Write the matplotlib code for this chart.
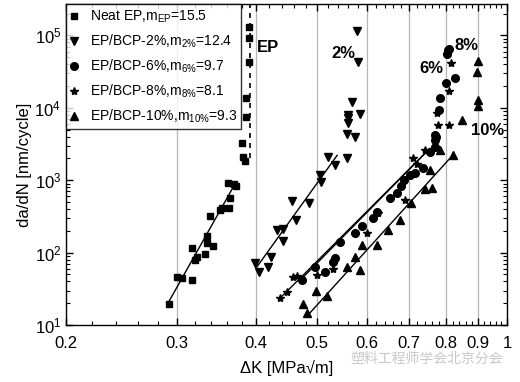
import matplotlib
matplotlib.use("Agg")
import matplotlib.pyplot as plt
from matplotlib.ticker import FixedLocator, FixedFormatter, LogLocator, NullFormatter

plt.rcParams["font.family"] = ["Liberation Sans", "Noto Sans CJK SC", "DejaVu Sans"]
plt.rcParams["mathtext.default"] = "regular"

# Neat EP (squares)
ep_x = [0.291, 0.300, 0.305, 0.317, 0.317, 0.320, 0.323, 0.332, 0.335, 0.338, 0.335,
        0.342, 0.351, 0.354, 0.361, 0.362, 0.364, 0.369, 0.372, 0.380, 0.382, 0.384,
        0.386, 0.386, 0.390, 0.390, 0.390]
ep_y = [19.5, 46, 44, 115, 42, 79, 87, 95, 169, 318, 135,
        123, 385, 410, 910, 420, 565, 900, 830, 3240, 2080, 1830,
        7400, 13500, 43000, 93000, 130000]

# EP/BCP-2% (down triangles)
bcp2_x = [0.399, 0.404, 0.418, 0.423, 0.432, 0.442, 0.442, 0.457, 0.463, 0.486, 0.505,
          0.507, 0.520, 0.534, 0.557, 0.558, 0.559, 0.560, 0.559, 0.568, 0.585, 0.575,
          0.580, 0.578]
bcp2_y = [72, 54, 63, 87, 204, 210, 144, 515, 280, 480, 1170,
          935, 2080, 1610, 2000, 4400, 7900, 7200, 6100, 11900, 8300, 3900,
          43000, 117000]

# EP/BCP-6% (circles)
bcp6_x = [0.473, 0.496, 0.515, 0.530, 0.534, 0.544, 0.574, 0.589, 0.613, 0.622, 0.652,
          0.669, 0.678, 0.686, 0.702, 0.716, 0.736, 0.755, 0.768, 0.770, 0.772, 0.769,
          0.780, 0.783, 0.800, 0.827, 0.803, 0.805, 0.808]
bcp6_y = [42, 63, 54, 74, 84, 140, 186, 232, 300, 360, 565,
          660, 830, 1000, 1170, 1250, 1500, 2440, 2850, 3560, 3900, 4170,
          9200, 13500, 22000, 26000, 56000, 62000, 66000]

# EP/BCP-8% (stars)
bcp8_x = [0.437, 0.448, 0.458, 0.465, 0.500, 0.530, 0.600, 0.624, 0.688, 0.709, 0.720,
          0.740, 0.778, 0.810, 0.775, 0.810, 0.815]
bcp8_y = [23.6, 28.5, 46, 48, 49, 60, 186, 350, 530, 2000, 1700,
          2600, 5800, 5800, 8600, 17000, 42000]

# EP/BCP-10% (up triangles)
bcp10_x = [0.482, 0.475, 0.498, 0.518, 0.557, 0.574, 0.585, 0.589, 0.622, 0.648, 0.676,
           0.705, 0.740, 0.760, 0.755, 0.783, 0.820, 0.850, 0.900, 0.900, 0.897, 0.900]
bcp10_y = [14.6, 19.5, 30, 25, 63, 87, 57, 127, 127, 205, 280,
           480, 750, 780, 1370, 2600, 2200, 6700, 10700, 12700, 31000, 45000]

# fitted Paris-law lines (end points)
fit_ep = ([0.291, 0.368], [21, 800])
fit_2 = ([0.400, 0.538], [61, 2210])
fit_6 = ([0.473, 0.750], [44, 2600])
fit_8 = ([0.437, 0.755], [23.6, 2760])
fit_10 = ([0.482, 0.820], [13.3, 2210])

labels = [r"Neat EP,m$_{EP}$=15.5", r"EP/BCP-2%,m$_{2\%}$=12.4",
          r"EP/BCP-6%,m$_{6\%}$=9.7", r"EP/BCP-8%,m$_{8\%}$=8.1",
          r"EP/BCP-10%,m$_{10\%}$=9.3"]
xticks = [0.2, 0.3, 0.4, 0.5, 0.6, 0.7, 0.8, 0.9, 1.0]
xticklabels = ["0.2", "0.3", "0.4", "0.5", "0.6", "0.7", "0.8", "0.9", "1"]

fig = plt.figure(figsize=(5.2, 3.82), dpi=100)
ax = fig.add_axes([0.127, 0.149, 0.848, 0.840])
ax.set_xscale("log")
ax.set_yscale("log")

for gx in xticks[1:-1]:
    ax.axvline(gx, color="#b5b5b5", lw=0.9, zorder=0)

ax.plot(ep_x, ep_y, "s", color="black", ms=5, ls="none", label=labels[0])
ax.plot(bcp2_x, bcp2_y, "v", color="black", ms=6, ls="none", label=labels[1])
ax.plot(bcp6_x, bcp6_y, "o", color="black", ms=5.5, ls="none", label=labels[2])
ax.plot(bcp8_x, bcp8_y, "*", color="black", ms=6, ls="none", label=labels[3])
ax.plot(bcp10_x, bcp10_y, "^", color="black", ms=6, ls="none", label=labels[4])

for fx, fy in [fit_ep, fit_2, fit_6, fit_8, fit_10]:
    ax.plot(fx, fy, color="black", lw=1)

ax.plot([0.392, 0.392], [2000, 3e5], color="black", lw=1.2, ls=(0, (3, 3)))

ax.set_xlim(0.2, 1.0)
ax.set_ylim(10, 2.7e5)

ax.xaxis.set_major_locator(FixedLocator(xticks))
ax.xaxis.set_major_formatter(FixedFormatter(xticklabels))
ax.xaxis.set_minor_locator(FixedLocator([0.2 + 0.02 * i for i in range(1, 40)]))
ax.xaxis.set_minor_formatter(NullFormatter())
ax.yaxis.set_major_locator(LogLocator(base=10, numticks=10))
ax.yaxis.set_minor_locator(LogLocator(base=10, subs=range(2, 10), numticks=10))
ax.yaxis.set_minor_formatter(NullFormatter())

ax.tick_params(which="both", direction="in", top=True, right=True, labelsize=12)
ax.tick_params(which="major", length=5, width=1)
ax.tick_params(which="minor", length=3, width=0.8)
ax.tick_params(axis="x", which="major", pad=8)
for s in ax.spines.values():
    s.set_linewidth(1)

ax.set_xlabel("ΔK [MPa√m]", fontsize=12, labelpad=6)
ax.set_ylabel("da/dN [nm/cycle]", fontsize=12, labelpad=2)

ax.text(0.418, 6.8e4, "EP", fontsize=12, fontweight="bold", ha="center", va="center")
ax.text(0.550, 5.6e4, "2%", fontsize=12, fontweight="bold", ha="center", va="center")
ax.text(0.760, 3.5e4, "6%", fontsize=12, fontweight="bold", ha="center", va="center")
ax.text(0.864, 7.2e4, "8%", fontsize=12, fontweight="bold", ha="center", va="center")
ax.text(0.933, 4.9e3, "10%", fontsize=12, fontweight="bold", ha="center", va="center")

leg = ax.legend(loc="upper left", fontsize=10, frameon=True, fancybox=False,
                handlelength=0.6, handletextpad=0.8, borderpad=0.3,
                labelspacing=0.55, borderaxespad=0.0)
leg.get_frame().set_edgecolor("black")
leg.get_frame().set_linewidth(1)

fig.text(0.82, 0.062, "塑料工程师学会北京分会", fontsize=10, color="#c8c8c8",
         ha="center", va="center", family=["Noto Sans CJK SC", "DejaVu Sans"])

fig.savefig("out.png", dpi=100)
